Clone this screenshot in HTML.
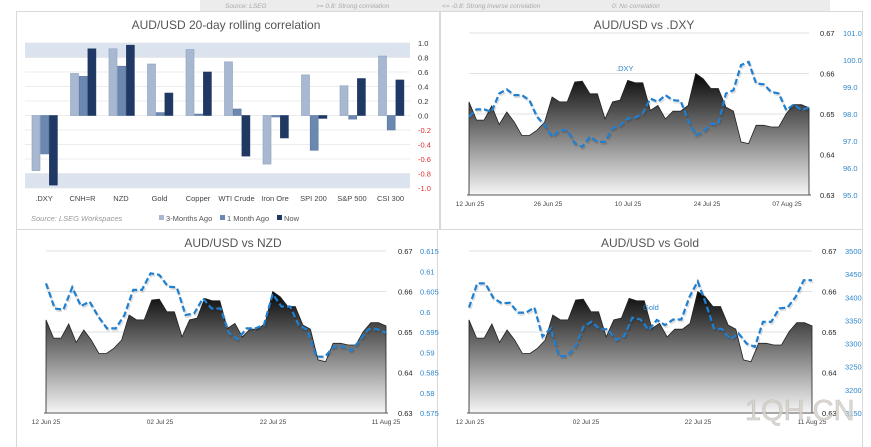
<!DOCTYPE html>
<html><head><meta charset="utf-8">
<style>
body{margin:0;background:#fff;width:871px;height:447px;overflow:hidden;font-family:"Liberation Sans",sans-serif}
svg{display:block}
</style></head>
<body>
<svg id="root" width="871" height="447" xmlns="http://www.w3.org/2000/svg">
<defs>
<linearGradient id="gTop" gradientUnits="userSpaceOnUse" x1="0" y1="70" x2="0" y2="195">
<stop offset="0" stop-color="#000"/><stop offset="0.5" stop-color="#7a7a7a"/><stop offset="1" stop-color="#f6f6f6"/></linearGradient>
<linearGradient id="gBot" gradientUnits="userSpaceOnUse" x1="0" y1="288" x2="0" y2="413">
<stop offset="0" stop-color="#000"/><stop offset="0.5" stop-color="#7a7a7a"/><stop offset="1" stop-color="#f6f6f6"/></linearGradient>
</defs>
<rect x="200" y="0" width="630" height="11" fill="#ececec"/>
<g font-size="6.5" font-style="italic" fill="#aaa">
<text x="225" y="8">Source: LSEG</text>
<text x="316" y="8">&gt;= 0.8:  Strong correlation</text>
<text x="442" y="8">&lt;= -0.8:  Strong inverse correlation</text>
<text x="612" y="8">0:  No correlation</text>
</g>
<rect x="16.5" y="11.5" width="423" height="218" fill="none" stroke="#d9d9d9"/>
<rect x="440.5" y="11.5" width="422" height="218" fill="none" stroke="#d9d9d9"/>
<line x1="16.5" y1="230" x2="16.5" y2="447" stroke="#d9d9d9"/>
<line x1="437.5" y1="230" x2="437.5" y2="447" stroke="#d9d9d9"/>
<line x1="862.5" y1="230" x2="862.5" y2="447" stroke="#d9d9d9"/>
<g id="bar"></g>
<g id="c1"></g><g id="c2"></g><g id="c3"></g>
<text x="745" y="420" font-size="29" fill="#d8d2c8" stroke="#bbb" stroke-width="0.6" opacity="0.85">1QH.CN</text>
</svg>
<script>
const NS="http://www.w3.org/2000/svg";
function el(p,t,a,txt){const e=document.createElementNS(NS,t);for(const k in a)e.setAttribute(k,a[k]);if(txt!==undefined)e.textContent=txt;p.appendChild(e);return e;}

// ---- Bar chart data ----
const categories=[".DXY","CNH=R","NZD","Gold","Copper","WTI Crude","Iron Ore","SPI 200","S&P 500","CSI 300"];
const threeMonths=[-0.76,0.58,0.92,0.71,0.91,0.74,-0.67,0.56,0.41,0.82];
const oneMonth=[-0.53,0.54,0.68,0.04,0.02,0.09,-0.02,-0.48,-0.05,-0.20];
const nowVals=[-0.96,0.92,0.97,0.31,0.60,-0.56,-0.31,-0.04,0.51,0.49];
const barTicks=[1.0,0.8,0.6,0.4,0.2,0.0,-0.2,-0.4,-0.6,-0.8,-1.0];

// ---- Line chart data ----
const audusd=[0.6530,0.6485,0.6485,0.6520,0.6474,0.6505,0.6480,0.6447,0.6447,0.6460,0.6480,0.6542,0.6530,0.6530,0.6579,0.6581,0.6550,0.6550,0.6488,0.6530,0.6534,0.6583,0.6577,0.6577,0.6509,0.6521,0.6488,0.6507,0.6507,0.6521,0.6600,0.6587,0.6563,0.6563,0.6517,0.6507,0.6431,0.6427,0.6472,0.6472,0.6468,0.6468,0.6501,0.6523,0.6523,0.6515];
const dxy=[97.90,98.17,98.17,98.08,98.76,98.91,98.70,98.70,98.51,97.90,97.59,97.16,97.40,97.40,96.91,96.79,97.16,96.97,96.97,97.47,97.59,97.83,97.87,98.02,98.57,98.45,98.70,98.51,98.49,97.77,97.22,97.34,97.63,97.63,98.76,98.88,99.81,99.93,99.13,99.10,98.82,98.76,98.14,98.36,98.14,98.24];
const nzd=[0.6070,0.6008,0.6005,0.6060,0.6014,0.6025,0.5988,0.5959,0.5959,0.5992,0.6054,0.6054,0.6095,0.6091,0.6062,0.6060,0.5992,0.5996,0.6033,0.6008,0.6008,0.5947,0.5932,0.5959,0.5959,0.5967,0.6044,0.6013,0.6013,0.5967,0.5955,0.5889,0.5889,0.5914,0.5914,0.5904,0.5930,0.5957,0.5957,0.5948];
const gold=[3378,3430,3430,3398,3387,3388,3367,3367,3378,3315,3333,3273,3273,3293,3336,3347,3331,3331,3308,3316,3356,3352,3329,3351,3340,3352,3352,3401,3434,3387,3333,3331,3309,3322,3300,3293,3347,3347,3376,3378,3401,3437,3437];
const audTicks=[0.67,0.66,0.65,0.64,0.63];
const dxyTicks=["101.0","100.0","99.0","98.0","97.0","96.0","95.0"];
const nzdTicks=["0.615","0.61","0.605","0.6","0.595","0.59","0.585","0.58","0.575"];
const goldTicks=["3500","3450","3400","3350","3300","3250","3200","3150"];
const dxyDates=["12 Jun 25","26 Jun 25","10 Jul 25","24 Jul 25","07 Aug 25"];
const threeDates=["12 Jun 25","02 Jul 25","22 Jul 25","11 Aug 25"];

// ---- Bar chart ----
(function(){
const g=document.getElementById('bar');
const x0=25,x1=410,yTop=43,yBot=188;
const y=v=>yTop+(1-v)/2*(yBot-yTop);
const t=el(g,'text',{x:226,y:29,'font-size':12,fill:'#555','text-anchor':'middle'},'AUD/USD 20-day rolling correlation');

el(g,'rect',{x:x0,y:y(1),width:x1-x0,height:y(0.8)-y(1),fill:'#dbe3ef'});
el(g,'rect',{x:x0,y:y(-0.8),width:x1-x0,height:y(-1)-y(-0.8),fill:'#dbe3ef'});
barTicks.forEach(v=>{
 el(g,'line',{x1:x0,x2:x1,y1:y(v),y2:y(v),stroke:'#e6e6e6','stroke-width':0.8});
 const l=el(g,'text',{x:418,y:y(v)+3,'font-size':7.5,fill:v<0?'#e03030':'#333'},v.toFixed(1));
 
});
const cw=(x1-x0)/categories.length;
const series=[[threeMonths,'#a8b8d0','#8aa0c0','bar-3-months'],[oneMonth,'#6a88b0','#5a78a0','bar-1-month'],[nowVals,'#1f3864','#1f3864','bar-now']];
categories.forEach((c,i)=>{
 series.forEach((s,j)=>{
  const v=s[0][i],bx=x0+cw*i+7+j*8.7;
  const r=el(g,'rect',{x:bx,y:Math.min(y(v),y(0)),width:8,height:Math.abs(y(v)-y(0)),fill:s[1],stroke:s[2],'stroke-width':0.6});
  
 });
 const l=el(g,'text',{x:x0+cw*i+19,y:201,'font-size':7.5,fill:'#444','text-anchor':'middle'},c);
 
});
const src=el(g,'text',{x:31,y:221,'font-size':7.5,'font-style':'italic',fill:'#999'},'Source: LSEG Workspaces');

[[159,'#a8b8d0','3-Months Ago'],[220,'#6a88b0','1 Month Ago'],[277,'#1f3864','Now']].forEach(d=>{
 const lg=el(g,'g',{});
 
 el(lg,'rect',{x:d[0],y:215,width:5,height:5,fill:d[1]});
 el(lg,'text',{x:d[0]+7,y:221,'font-size':7.5,fill:'#555'},d[2]);
});
})();

// ---- Line charts ----
function lineChart(id,o){
 const g=document.getElementById(id);
 const ya=v=>o.yT+(0.67-v)/0.04*(o.yB-o.yT);
 const yr=v=>o.yT+(o.rMax-v)/(o.rMax-o.rMin)*(o.yB-o.yT);
 const xa=(i,n)=>o.x0+i*(o.x1-o.x0)/(n-1);
 const t=el(g,'text',{x:o.tx,y:o.ty,'font-size':12,fill:'#555','text-anchor':'middle'},o.title);
 
 audTicks.forEach(v=>{
  if(v>0.635)el(g,'line',{x1:o.x0,x2:o.x1,y1:ya(v),y2:ya(v),stroke:'#e2e2e2','stroke-width':1});
  const l=el(g,'text',{x:o.lx,y:ya(v)+3,'font-size':7.5,fill:'#222'},v.toFixed(2));
  
 });
 o.rTicks.forEach((s,i)=>{
  const yy=o.yT+i*(o.yB-o.yT)/(o.rTicks.length-1);
  const l=el(g,'text',{x:o.rx,y:yy+3,'font-size':7.5,fill:'#2f86cc'},s);
  
 });
 o.dates.forEach((d,i)=>{
  const l=el(g,'text',{x:o.dx[i],y:o.yB+11,'font-size':6.5,fill:'#444','text-anchor':'middle'},d);
  
 });
 const n=audusd.length;
 let d='M'+o.x0+','+o.yB;
 audusd.forEach((v,i)=>{d+=' L'+xa(i,n).toFixed(1)+','+ya(v).toFixed(1);});
 d+=' L'+o.x1+','+o.yB+' Z';
 const a=el(g,'path',{d:d,fill:o.grad,stroke:'#222','stroke-width':0.8});
 
 el(g,'line',{x1:o.x0-2,x2:o.x1+2,y1:o.yB,y2:o.yB,stroke:'#555','stroke-width':1});
 const m=o.series.length;
 const pts=o.series.map((v,i)=>xa(i,m).toFixed(1)+','+yr(v).toFixed(1)).join(' ');
 el(g,'polyline',{points:pts,fill:'none',stroke:'rgba(0,0,0,0.12)','stroke-width':3,'stroke-dasharray':'6 3',transform:'translate(1,1.5)'});
 const p=el(g,'polyline',{points:pts,fill:'none',stroke:'#1f7fd0','stroke-width':2.2,'stroke-dasharray':'6 3'});
 
 if(o.lab){const l=el(g,'text',{x:o.lab[0],y:o.lab[1],'font-size':7.5,fill:'#2f86cc'},o.lab[2]);
  }
}
lineChart('c1',{title:'AUD/USD vs .DXY',tx:644,ty:29,x0:469,x1:809,yT:33,yB:195,rMax:101,rMin:95,series:dxy,rTicks:dxyTicks,lx:820,rx:843,dates:dxyDates,dx:[470,548,628,707,787],grad:'url(#gTop)',sname:'dxy-line',lab:[616,71,'.DXY']});
lineChart('c2',{title:'AUD/USD vs NZD',tx:233,ty:247,x0:46,x1:386,yT:251,yB:413,rMax:0.615,rMin:0.575,series:nzd,rTicks:nzdTicks,lx:398,rx:420,dates:threeDates,dx:[46,160,273,386],grad:'url(#gBot)',sname:'nzd-line'});
lineChart('c3',{title:'AUD/USD vs Gold',tx:650,ty:247,x0:469,x1:812,yT:251,yB:413,rMax:3500,rMin:3150,series:gold,rTicks:goldTicks,lx:822,rx:845,dates:threeDates,dx:[470,586,698,812],grad:'url(#gBot)',sname:'gold-line',lab:[643,310,'Gold']});
</script>
</body></html>
